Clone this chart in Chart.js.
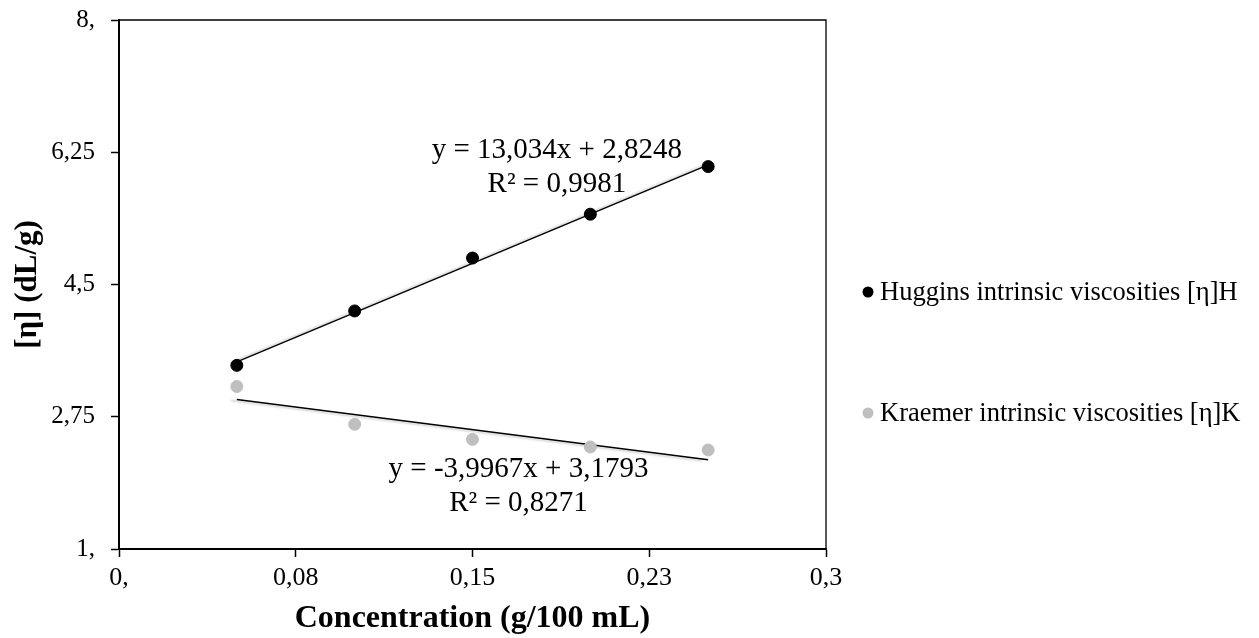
<!DOCTYPE html>
<html>
<head>
<meta charset="utf-8">
<script src="https://cdn.jsdelivr.net/npm/chart.js@4.4.1/dist/chart.umd.min.js"></script>
<style>
  html, body { margin: 0; padding: 0; background: #fff; }
  #wrap { width: 1259px; height: 638px; }
</style>
</head>
<body>
<div id="wrap"><canvas id="myChart"></canvas></div>
<script>
// Data
const concentration = [0.05, 0.10, 0.15, 0.20, 0.25];
const hugginsValues = [3.43, 4.15, 4.85, 5.43, 6.06];
const kraemerValues = [3.15, 2.65, 2.45, 2.35, 2.31];
const hugginsFit = [13.034, 2.8248];   // slope, intercept
const kraemerFit = [-3.9967, 3.1793];
const hugginsEquation = ["y = 13,034x + 2,8248", "R² = 0,9981"];
const kraemerEquation = ["y = -3,9967x + 3,1793", "R² = 0,8271"];
const seriesNames = ["Huggins intrinsic viscosities [η]H", "Kraemer intrinsic viscosities [η]K"];
const seriesColors = ["#000000", "#bfbfbf"];
const xTicks = [0, 0.075, 0.15, 0.225, 0.3];
const xTickLabels = ["0,", "0,08", "0,15", "0,23", "0,3"];
const yTicks = [1, 2.75, 4.5, 6.25, 8];
const yTickLabels = ["1,", "2,75", "4,5", "6,25", "8,"];

const serif = "'Liberation Serif', 'Times New Roman', serif";
const ctx = document.getElementById('myChart');

function toPoints(xs, ys) {
  return xs.map(function (x, i) { return { x: x, y: ys[i] }; });
}

function fitLine(fit) {
  const first = concentration[0];
  const last = concentration[concentration.length - 1];
  return [
    { x: first, y: fit[0] * first + fit[1] },
    { x: last, y: fit[0] * last + fit[1] }
  ];
}

// light grey shadow under the trendlines
const trendShadow = {
  id: 'trendShadow',
  beforeDatasetDraw(chart, args) {
    if (!chart.data.datasets[args.index].trend) return;
    const c = chart.ctx;
    c.save();
    c.shadowColor = 'rgba(0,0,0,0.2)';
    c.shadowBlur = 2;
    c.shadowOffsetX = -6;
    c.shadowOffsetY = 1;
  },
  afterDatasetDraw(chart, args) {
    if (!chart.data.datasets[args.index].trend) return;
    chart.ctx.restore();
  }
};

// frame, equations and legend
const extras = {
  id: 'extras',
  afterDraw(chart) {
    const c = chart.ctx;
    const a = chart.chartArea;
    const xs = chart.scales.x;
    const ys = chart.scales.y;
    c.save();
    c.strokeStyle = '#000';
    c.lineWidth = 1.3;
    c.beginPath();
    c.moveTo(a.left, a.top);
    c.lineTo(a.right, a.top);
    c.lineTo(a.right, a.bottom);
    c.stroke();

    c.fillStyle = '#000';
    c.font = "29px " + serif;
    c.textAlign = 'center';
    c.textBaseline = 'alphabetic';
    c.fillText(hugginsEquation[0], xs.getPixelForValue(0.1858), ys.getPixelForValue(6.174));
    c.fillText(hugginsEquation[1], xs.getPixelForValue(0.1858), ys.getPixelForValue(5.724));
    c.fillText(kraemerEquation[0], xs.getPixelForValue(0.1695), ys.getPixelForValue(1.953));
    c.fillText(kraemerEquation[1], xs.getPixelForValue(0.1695), ys.getPixelForValue(1.503));

    // legend
    c.font = "26.5px " + serif;
    c.textAlign = 'left';
    c.textBaseline = 'middle';
    const rows = [292, 413];
    seriesNames.forEach(function (name, i) {
      c.fillStyle = seriesColors[i];
      c.beginPath();
      c.arc(868, rows[i], 5.5, 0, Math.PI * 2);
      c.fill();
      c.fillStyle = '#000';
      c.fillText(name, 880, rows[i] + 1);
    });
    c.restore();
  }
};

new Chart(ctx, {
  type: 'scatter',
  data: {
    datasets: [
      {
        label: seriesNames[0],
        data: toPoints(concentration, hugginsValues),
        backgroundColor: seriesColors[0],
        borderColor: seriesColors[0],
        pointRadius: 6,
        pointHoverRadius: 6,
        order: 0
      },
      {
        label: seriesNames[1],
        data: toPoints(concentration, kraemerValues),
        backgroundColor: seriesColors[1],
        borderColor: seriesColors[1],
        pointRadius: 6,
        pointHoverRadius: 6,
        order: 0
      },
      {
        label: 'Huggins trend',
        type: 'line',
        trend: true,
        data: fitLine(hugginsFit),
        borderColor: '#000',
        borderWidth: 1.5,
        pointRadius: 0,
        fill: false,
        order: 1
      },
      {
        label: 'Kraemer trend',
        type: 'line',
        trend: true,
        data: fitLine(kraemerFit),
        borderColor: '#000',
        borderWidth: 1.5,
        pointRadius: 0,
        fill: false,
        order: 1
      }
    ]
  },
  options: {
    responsive: true,
    maintainAspectRatio: false,
    animation: false,
    layout: { padding: { left: 0, right: 433, top: 20, bottom: 0 } },
    plugins: {
      legend: { display: false },
      tooltip: { enabled: false }
    },
    scales: {
      x: {
        type: 'linear',
        min: 0,
        max: 0.3,
        afterBuildTicks: function (scale) { scale.ticks = xTicks.map(function (v) { return { value: v }; }); },
        afterFit: function (scale) { scale.height = 89; scale.paddingLeft = 0; scale.paddingRight = 0; },
        ticks: {
          color: '#000',
          font: { family: serif, size: 26 },
          padding: 6,
          maxRotation: 0,
          callback: function (value, index) { return xTickLabels[index]; }
        },
        grid: { drawOnChartArea: false, drawTicks: true, tickLength: 8, tickWidth: 1.5, tickColor: '#000' },
        border: { display: true, color: '#000', width: 2 },
        title: {
          display: true,
          text: 'Concentration (g/100 mL)',
          color: '#000',
          font: { family: serif, size: 32, weight: 'bold', lineHeight: 1.2 },
          padding: { top: 0, bottom: 0 }
        }
      },
      y: {
        type: 'linear',
        min: 1,
        max: 8,
        afterBuildTicks: function (scale) { scale.ticks = yTicks.map(function (v) { return { value: v }; }); },
        afterFit: function (scale) { scale.width = 119; scale.paddingTop = 0; scale.paddingBottom = 0; },
        ticks: {
          color: '#000',
          font: { family: serif, size: 25 },
          padding: 16,
          callback: function (value, index) { return yTickLabels[index]; }
        },
        grid: { drawOnChartArea: false, drawTicks: true, tickLength: 8, tickWidth: 1.5, tickColor: '#000' },
        border: { display: true, color: '#000', width: 2 },
        title: {
          display: true,
          text: '[η] (dL/g)',
          color: '#000',
          font: { family: serif, size: 31, weight: 'bold', lineHeight: 1.2 },
          padding: { top: 9, bottom: 0 }
        }
      }
    }
  },
  plugins: [trendShadow, extras]
});
</script>
</body>
</html>
